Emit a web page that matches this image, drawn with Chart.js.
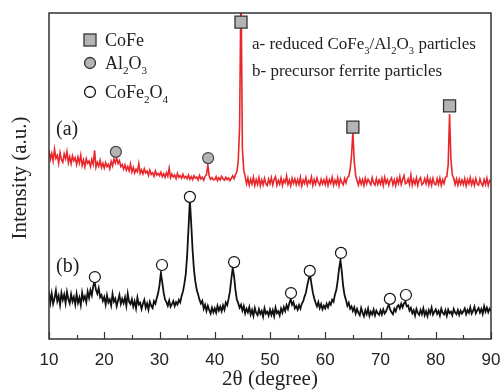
<!DOCTYPE html>
<html>
<head>
<meta charset="utf-8">
<script src="https://cdn.jsdelivr.net/npm/chart.js@4.4.1/dist/chart.umd.min.js"></script>
<style>
  html, body { margin: 0; padding: 0; background: #fff; }
  #wrap { width: 504px; height: 390px; }
</style>
</head>
<body>
<div id="wrap"><canvas id="xrd"></canvas></div>
<script>
// 2theta grid: 10 .. 90 deg, step 0.25
const thetaStart = 10;
const thetaStep = 0.25;

// (a) reduced CoFe3/Al2O3 particles, intensity a.u. (0-100 scale)
const patternA = [
  57.8, 55.1, 56.9, 54.6, 58.2, 55.4, 56.3, 53.9, 57.1, 55.0, 54.2, 56.8, 55.3, 57.5, 54.1, 55.9, 53.8, 56.2, 54.7, 55.6,
  53.5, 55.8, 54.0, 56.4, 53.2, 54.9, 52.8, 55.3, 53.9, 54.6, 52.9, 55.1, 53.6, 57.9, 52.7, 54.2, 53.0, 54.8, 52.6, 53.9,
  52.4, 54.1, 52.9, 53.6, 52.2, 54.5, 53.1, 55.2, 54.0, 55.6, 53.8, 54.7, 52.9, 53.5, 52.1, 53.4, 51.8, 52.9, 51.6, 53.7,
  51.2, 52.6, 50.9, 52.1, 51.3, 53.8, 50.8, 51.9, 50.6, 52.2, 50.9, 51.5, 50.2, 51.8, 50.5, 51.0, 49.9, 51.6, 50.3, 50.8,
  50.1, 51.2, 49.8, 50.7, 49.6, 51.0, 49.9, 52.4, 49.5, 50.6, 49.7, 50.3, 49.2, 50.8, 49.6, 50.1, 49.3, 50.5, 49.4, 49.9,
  49.2, 50.3, 49.0, 49.8, 48.9, 50.1, 49.3, 49.7, 48.8, 50.2, 49.1, 49.6, 48.7, 49.9, 50.4, 53.3, 50.0, 49.0, 49.5, 48.8,
  48.9, 49.8, 48.6, 49.5, 48.8, 49.9, 49.1, 48.7, 49.6, 48.9, 49.4, 48.6, 49.3, 50.1, 49.2, 50.4, 51.3, 54.5, 65.0, 110,
  58.5, 51.8, 49.9, 47.6, 49.4, 47.2, 49.0, 47.5, 49.6, 47.1, 48.9, 47.4, 49.5, 47.0, 48.8, 47.3, 49.3, 47.6, 47.1, 49.0,
  47.6, 49.5, 47.3, 48.9, 49.8, 47.2, 48.6, 47.5, 49.4, 47.1, 48.8, 47.9, 50.0, 47.4, 48.7, 47.0, 49.3, 47.8, 49.1, 47.3,
  48.9, 47.4, 49.6, 47.0, 48.8, 47.7, 49.5, 47.2, 48.6, 47.8, 49.7, 47.1, 48.9, 47.5, 49.4, 48.0, 47.2, 49.0, 47.6, 48.8,
  47.4, 49.3, 47.1, 48.9, 47.8, 49.6, 47.2, 48.7, 47.5, 49.4, 47.0, 49.1, 48.0, 47.3, 49.2, 47.9, 49.5, 49.9, 52.0, 56.0,
  63.5, 54.5, 50.2, 48.6, 47.2, 49.1, 47.5, 48.9, 47.1, 49.3, 47.6, 49.0, 48.2, 47.3, 49.5, 47.8, 47.2, 49.2, 47.4, 48.8,
  47.5, 49.3, 47.1, 49.6, 47.8, 48.9, 47.2, 48.7, 49.4, 47.3, 48.8, 47.0, 49.2, 47.7, 49.8, 47.4, 48.9, 50.1, 47.6, 47.9,
  49.1, 47.4, 50.3, 47.2, 48.9, 47.5, 49.4, 47.1, 48.8, 49.5, 47.3, 47.8, 49.2, 47.6, 49.7, 47.3, 49.0, 47.2, 49.3, 47.6,
  47.3, 49.2, 47.5, 49.4, 47.1, 48.9, 47.7, 49.6, 49.8, 53.5, 69.0, 55.0, 50.4, 49.3, 47.4, 49.1, 47.2, 49.0, 47.5, 48.8,
  47.4, 49.2, 47.0, 48.9, 47.6, 49.5, 47.3, 48.8, 47.1, 49.2, 47.6, 47.2, 49.1, 47.7, 47.0, 48.9, 47.4, 49.3, 47.1, 48.6,
  48.2
];

// (b) precursor ferrite particles
const patternB = [
  14.6, 11.2, 13.9, 10.8, 12.5, 14.9, 11.6, 13.2, 10.5, 14.1, 12.0, 13.6, 11.0, 14.4, 12.2, 10.9, 13.7, 11.5, 12.9, 10.6,
  13.8, 11.1, 12.7, 10.4, 14.2, 12.0, 13.1, 11.3, 14.5, 12.6, 15.0, 13.4, 16.2, 17.5, 15.1, 13.9, 15.6, 12.8, 13.5, 11.7,
  12.9, 10.6, 13.4, 11.2, 12.1, 10.3, 13.8, 11.5, 12.4, 10.1, 11.9, 13.5, 10.8, 12.3, 11.0, 12.8, 10.2, 13.9, 11.4, 10.7,
  12.2, 10.0, 11.6, 9.4, 12.7, 10.6, 11.1, 9.2, 10.8, 12.0, 9.6, 10.9, 9.0, 11.4, 10.2, 9.5, 11.6, 10.8, 12.5, 14.0,
  16.5, 20.3, 17.4, 14.2, 12.1, 11.3, 10.2, 11.8, 9.9, 10.7, 11.6, 10.1, 11.3, 10.6, 12.0, 11.2, 13.2, 14.6, 16.9, 19.8,
  25.5, 34.0, 42.6, 35.0, 27.0, 21.0, 17.5, 15.0, 13.6, 12.0, 10.9, 11.7, 9.3, 10.5, 8.6, 10.2, 8.9, 7.8, 9.6, 8.2,
  9.4, 8.1, 10.2, 8.7, 9.9, 8.5, 10.3, 9.0, 11.2, 10.4, 12.3, 14.6, 18.4, 21.8, 19.2, 15.0, 12.1, 11.0, 9.6, 10.5,
  8.7, 10.1, 7.9, 9.3, 8.2, 9.8, 7.5, 8.9, 7.1, 9.5, 8.0, 7.3, 9.1, 7.7, 8.6, 6.9, 9.4, 7.8, 8.4, 7.2,
  9.0, 7.4, 8.8, 7.0, 9.6, 7.9, 8.5, 7.2, 9.3, 8.1, 9.8, 8.6, 10.4, 9.2, 11.0, 12.2, 10.5, 11.3, 9.4, 10.1,
  9.0, 10.4, 9.3, 10.8, 11.5, 13.0, 14.2, 16.5, 18.4, 19.8, 16.9, 14.3, 12.5, 11.1, 10.0, 11.3, 9.5, 10.7, 9.1, 10.2,
  9.4, 10.8, 9.7, 11.2, 10.5, 12.0, 11.4, 13.6, 15.0, 17.8, 21.5, 24.2, 20.6, 16.1, 13.4, 12.0, 10.2, 11.1, 9.3, 10.0,
  8.6, 9.7, 7.8, 9.2, 8.0, 7.3, 9.5, 8.1, 7.0, 8.8, 7.6, 9.3, 7.1, 8.4, 7.5, 9.0, 7.2, 8.7, 7.9, 7.4,
  8.8, 7.5, 9.1, 7.8, 8.4, 9.6, 10.6, 9.0, 8.2, 7.6, 9.3, 8.5, 9.9, 10.4, 9.4, 10.8, 9.7, 10.9, 11.5, 10.0,
  10.3, 8.7, 9.5, 7.9, 8.8, 7.2, 9.2, 8.0, 7.4, 8.9, 7.6, 9.4, 7.3, 8.5, 7.0, 8.9, 7.8, 9.6, 7.5, 8.3,
  9.1, 7.7, 8.6, 7.2, 9.3, 8.0, 7.5, 8.8, 7.1, 9.0, 7.9, 8.4, 7.3, 9.2, 8.1, 7.6, 8.9, 7.4, 8.7, 7.8,
  8.5, 9.4, 7.6, 8.9, 8.0, 9.7, 7.8, 8.6, 9.9, 7.9, 8.8, 9.5, 8.1, 9.2, 7.7, 10.0, 8.4, 9.6, 8.2, 9.3,
  8.7
];

// peak markers
const cofeTheta = [44.75, 65.0, 82.5];
const cofeY = [97.2, 65.0, 71.5];
const aluminaTheta = [22.1, 38.8];
const aluminaY = [57.4, 55.5];
const ferriteTheta = [18.3, 30.45, 35.5, 43.5, 53.8, 57.2, 62.85, 71.7, 74.6];
const ferriteY = [19.0, 22.7, 43.6, 23.6, 14.1, 20.9, 26.4, 12.3, 13.5];

const xTicks = [10, 20, 30, 40, 50, 60, 70, 80, 90];

const SERIF = '"Liberation Serif", "Times New Roman", serif';
const SANS = '"Liberation Sans", Arial, sans-serif';

const toPoints = (ys) => ys.map((v, i) => ({ x: thetaStart + i * thetaStep, y: v }));
const pairs = (xs, ys) => xs.map((v, i) => ({ x: v, y: ys[i] }));

// text with "_x" subscripts
function richText(ctx, str, x, y, size) {
  let cx = x;
  for (let i = 0; i < str.length; i++) {
    let ch = str[i];
    if (ch === '_') {
      ch = str[++i];
      ctx.font = (size * 0.62) + 'px ' + SERIF;
      ctx.fillText(ch, cx, y + size * 0.28);
    } else {
      ctx.font = size + 'px ' + SERIF;
      ctx.fillText(ch, cx, y);
    }
    cx += ctx.measureText(ch).width;
  }
}

const decor = {
  id: 'decor',
  afterDraw(chart) {
    const { ctx, chartArea: a, scales } = chart;
    const xs = scales.x;
    ctx.save();
    // frame
    ctx.strokeStyle = '#333';
    ctx.lineWidth = 1.5;
    ctx.strokeRect(a.left, a.top, a.right - a.left, a.bottom - a.top);
    // inward ticks
    ctx.lineWidth = 1.2;
    for (let v = 10; v <= 90; v += 5) {
      const px = Math.round(xs.getPixelForValue(v)) + 0.5;
      const len = v % 10 === 0 ? 7 : 4;
      ctx.beginPath();
      ctx.moveTo(px, a.bottom);
      ctx.lineTo(px, a.bottom - len);
      ctx.stroke();
    }
    // axis titles
    ctx.fillStyle = '#222';
    ctx.textBaseline = 'middle';
    ctx.textAlign = 'center';
    ctx.font = '21px ' + SERIF;
    ctx.fillText('2\u03b8 (degree)', (a.left + a.right) / 2, 379);
    ctx.save();
    ctx.translate(20, 178);
    ctx.rotate(-Math.PI / 2);
    ctx.fillText('Intensity (a.u.)', 0, 0);
    ctx.restore();

    // legend
    ctx.textAlign = 'left';
    ctx.fillStyle = '#b4b4b4';
    ctx.strokeStyle = '#333';
    ctx.lineWidth = 1.3;
    ctx.fillRect(84, 34, 12, 12);
    ctx.strokeRect(84, 34, 12, 12);
    ctx.beginPath();
    ctx.arc(90, 63, 5.5, 0, Math.PI * 2);
    ctx.fill();
    ctx.stroke();
    ctx.fillStyle = '#fff';
    ctx.strokeStyle = '#111';
    ctx.beginPath();
    ctx.arc(90, 92, 5.5, 0, Math.PI * 2);
    ctx.fill();
    ctx.stroke();

    ctx.fillStyle = '#222';
    ctx.textBaseline = 'alphabetic';
    richText(ctx, 'CoFe', 105, 46, 18);
    richText(ctx, 'Al_2O_3', 105, 69, 18);
    richText(ctx, 'CoFe_2O_4', 105, 98, 18);

    richText(ctx, 'a- reduced CoFe_3/Al_2O_3 particles', 252, 49, 17);
    richText(ctx, 'b- precursor ferrite particles', 252, 76, 17);

    richText(ctx, '(a)', 56, 135, 20);
    richText(ctx, '(b)', 56, 272, 20);
    ctx.restore();
  }
};

new Chart(document.getElementById('xrd'), {
  type: 'line',
  data: {
    datasets: [
      {
        label: 'a',
        data: toPoints(patternA),
        borderColor: '#e8262b',
        borderWidth: 1.6,
        pointRadius: 0,
        tension: 0,
        order: 3,
      },
      {
        label: 'b',
        data: toPoints(patternB),
        borderColor: '#111',
        borderWidth: 1.8,
        pointRadius: 0,
        tension: 0,
        order: 3,
      },
      {
        label: 'CoFe',
        type: 'scatter',
        data: pairs(cofeTheta, cofeY),
        pointStyle: 'rect',
        pointRadius: 8.5,
        backgroundColor: '#b4b4b4',
        borderColor: '#333',
        borderWidth: 1.3,
        order: 1,
      },
      {
        label: 'Al2O3',
        type: 'scatter',
        data: pairs(aluminaTheta, aluminaY),
        pointStyle: 'circle',
        pointRadius: 5.5,
        backgroundColor: '#b4b4b4',
        borderColor: '#444',
        borderWidth: 1.2,
        order: 1,
      },
      {
        label: 'CoFe2O4',
        type: 'scatter',
        data: pairs(ferriteTheta, ferriteY),
        pointStyle: 'circle',
        pointRadius: 5.5,
        backgroundColor: '#fff',
        borderColor: '#111',
        borderWidth: 1.2,
        order: 1,
      },
    ],
  },
  options: {
    responsive: true,
    maintainAspectRatio: false,
    animation: false,
    events: [],
    layout: { padding: { top: 13, right: 13, left: 0, bottom: 0 } },
    plugins: { legend: { display: false }, tooltip: { enabled: false } },
    scales: {
      x: {
        type: 'linear',
        min: 10,
        max: 90,
        afterBuildTicks: (s) => { s.ticks = xTicks.map((v) => ({ value: v })); },
        afterFit: (s) => { s.height = 51; },
        grid: { display: false },
        border: { display: false },
        ticks: {
          padding: 3,
          color: '#222',
          font: { family: SANS, size: 17 },
          maxRotation: 0,
        },
      },
      y: {
        min: 0,
        max: 100,
        afterFit: (s) => { s.width = 49; },
        grid: { display: false },
        border: { display: false },
        ticks: { display: false },
      },
    },
  },
  plugins: [decor],
});
</script>
</body>
</html>
